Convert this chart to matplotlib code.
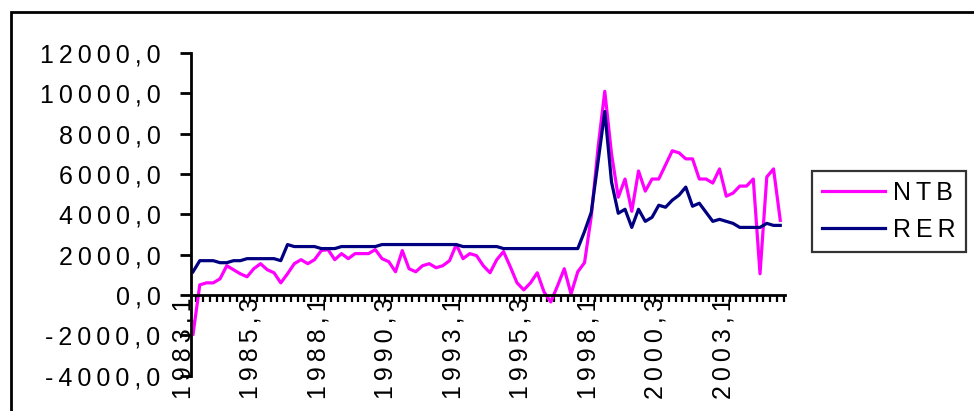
import numpy as np
import matplotlib
matplotlib.use('Agg')
import matplotlib.pyplot as plt
import matplotlib.transforms as mtransforms
from matplotlib.patches import Rectangle
from matplotlib.ticker import FuncFormatter, FixedLocator

plt.rcParams['font.family'] = ['Liberation Sans', 'DejaVu Sans']

# quarterly data, 1983 Q1 .. 2004 Q4
ntb = [-1950, 500, 600, 600, 800, 1450, 1250, 1050, 900, 1300,
       1550, 1250, 1100, 600, 1050, 1550, 1750, 1550, 1750, 2200,
       2250, 1750, 2050, 1800, 2050, 2050, 2050, 2250, 1800, 1650,
       1150, 2200, 1300, 1150, 1450, 1550, 1350, 1450, 1700, 2500,
       1800, 2050, 1950, 1450, 1100, 1750, 2150, 1400, 600, 250,
       600, 1100, 150, -350, 450, 1300, 50, 1150, 1600, 3900,
       7300, 10100, 7000, 4850, 5750, 4150, 6150, 5150, 5750, 5750,
       6450, 7150, 7050, 6750, 6750, 5750, 5750, 5550, 6250, 4900,
       5050, 5400, 5400, 5750, 1050, 5850, 6250, 3700]

rer = [1150, 1700, 1700, 1700, 1600, 1600, 1700, 1700, 1800, 1800,
       1800, 1800, 1800, 1700, 2500, 2400, 2400, 2400, 2400, 2300,
       2300, 2300, 2400, 2400, 2400, 2400, 2400, 2400, 2500, 2500,
       2500, 2500, 2500, 2500, 2500, 2500, 2500, 2500, 2500, 2500,
       2400, 2400, 2400, 2400, 2400, 2400, 2300, 2300, 2300, 2300,
       2300, 2300, 2300, 2300, 2300, 2300, 2300, 2300, 3150, 4100,
       6600, 9100, 5600, 4050, 4250, 3350, 4250, 3650, 3850, 4450,
       4350, 4700, 4950, 5350, 4400, 4550, 4100, 3650, 3750, 3650,
       3550, 3350, 3350, 3350, 3350, 3550, 3450, 3450]

tick_labels = ['1983,1', '1985,3', '1988,1', '1990,3', '1993,1',
               '1995,3', '1998,1', '2000,3', '2003,1']
series_names = ['NTB', 'RER']
label_step = 10
y_ticks = [-4000, -2000, 0, 2000, 4000, 6000, 8000, 10000, 12000]

FS = 18


def spaced(s):
    # wide letter spacing like the old spreadsheet chart
    return '\u2009'.join(s)


W, H = 974, 411
fig = plt.figure(figsize=(W / 100, H / 100), dpi=100)

# outer chart border (runs off the right and bottom edge)
fig.patches.append(Rectangle((10.7 / W, -0.2), 1.2, 1.2 - 12 / H,
                             transform=fig.transFigure, fill=False,
                             lw=2.0, edgecolor='black'))

ax = fig.add_axes([191 / W, 1 - 375.6 / H, (785 - 191) / W, (375.6 - 53) / H])

x = np.arange(len(ntb))
ax.plot(x, ntb, color='#FF00FF', lw=2.3, label=spaced(series_names[0]))
ax.plot(x, rer, color='#000080', lw=2.3, label=spaced(series_names[1]))

ax.set_xlim(-0.3, 87.7)
ax.set_ylim(-4000, 12000)

for s in ('top', 'right'):
    ax.spines[s].set_visible(False)
ax.spines['bottom'].set_position(('data', 0))
ax.spines['bottom'].set_linewidth(2.0)
ax.spines['left'].set_linewidth(2.0)

ax.set_yticks(y_ticks)
ax.yaxis.set_major_formatter(
    FuncFormatter(lambda v, p: spaced(f"{v:.1f}".replace('.', ','))))
ax.tick_params(axis='y', direction='out', length=8, width=2.0, pad=14,
               labelsize=FS)

ax.set_xticks(np.arange(0, len(ntb), label_step))
ax.set_xticklabels([spaced(t) for t in tick_labels], rotation=90, fontsize=FS)
ax.xaxis.set_minor_locator(FixedLocator(np.arange(0.5, len(ntb), 1)))
ax.tick_params(axis='x', which='major', length=0, pad=2)
ax.tick_params(axis='x', which='minor', direction='out', length=5, width=1.6)

shift = mtransforms.ScaledTranslation(-0.10, 0, fig.dpi_scale_trans)
for lab in ax.get_xticklabels():
    lab.set_transform(lab.get_transform() + shift)

leg = ax.legend(loc='upper left', bbox_to_anchor=(812 / W, 1 - 171 / H),
                bbox_transform=fig.transFigure, fontsize=FS,
                frameon=True, fancybox=False, edgecolor='black',
                handlelength=2.5, handletextpad=0.35, borderpad=0.4,
                labelspacing=0.5, borderaxespad=0)
leg.get_frame().set_linewidth(1.6)

fig.savefig('out.png', dpi=100)
